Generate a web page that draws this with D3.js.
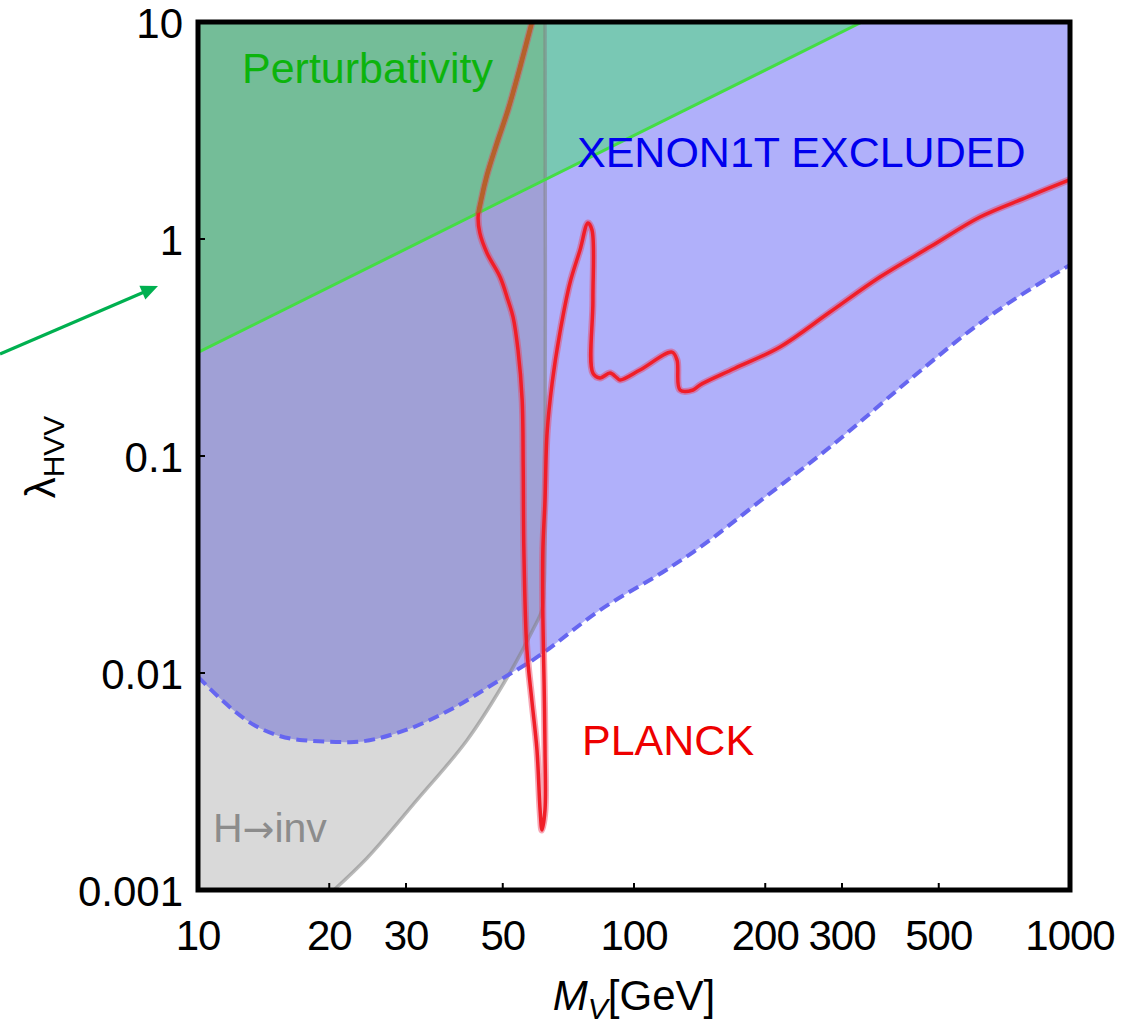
<!DOCTYPE html>
<html><head><meta charset="utf-8">
<script src="https://cdn.jsdelivr.net/npm/d3@7"></script>
<style>
body{margin:0;background:#fff}
text{font-family:"Liberation Sans",Arial,Helvetica,sans-serif}
</style>
</head><body>
<svg id="chart" width="1136" height="1025"></svg>
<script>
// ---- data ----
const xTicks = [10, 20, 30, 50, 100, 200, 300, 500, 1000];
const xTickLabels = ["10", "20", "30", "50", "100", "200", "300", "500", "1000"];
const yTicks = [0.001, 0.01, 0.1, 1, 10];
const yTickLabels = ["0.001", "0.01", "0.1", "1", "10"];

// XENON1T exclusion boundary (dashed)
const xenonM = [10, 13.7, 17.4, 22.3, 29.1, 37.8, 49.3, 58.7, 83.6, 119, 136.5, 200, 281.6, 436, 622, 1000];
const xenonL = [0.0096, 0.00564, 0.0049, 0.0048, 0.00535, 0.00675, 0.0093, 0.0115, 0.0195, 0.030, 0.036, 0.0647, 0.110, 0.231, 0.41, 0.76];

// H -> inv boundary (curve, then vertical at M = mH/2)
const hinvM = [20.5, 24.4, 31.8, 41.4, 51.9, 58.6, 61.5, 62.2, 62.5, 62.5];
const hinvL = [0.001, 0.0014, 0.0026, 0.0049, 0.0100, 0.0158, 0.0195, 0.025, 0.04, 10];

// Perturbativity line
const pertM = [10, 333.3];
const pertL = [0.3, 10];

// PLANCK relic density contour
const planckM = [58.5, 54.8, 51.4, 48.5, 46.0, 44.6, 43.9, 44.3, 46.0, 49.3, 51.4, 52.8, 54.2, 55.4, 55.7, 55.9, 56.8, 58.3, 59.9, 60.9, 61.5,
  62.5, 62.5, 62.2, 61.8, 61.8, 62.5, 63.2, 64.9, 67.6, 71.3, 75.2, 78.4, 80.1, 80.5, 80.5, 83.6, 88.1, 91.4, 92.9, 103.2,
  122.2, 125.5, 127.5, 136.6, 141.7, 170, 216.2, 280, 366.5, 480, 621.8, 800, 1000];
const planckL = [10.2, 6.2, 3.93, 2.77, 1.97, 1.51, 1.26, 1.066, 0.862, 0.668, 0.523, 0.437, 0.308, 0.181, 0.089, 0.0369, 0.0128, 0.0075, 0.00442, 0.00234, 0.00189,
  0.00234, 0.00442, 0.0090, 0.0181, 0.0369, 0.0627, 0.128, 0.217, 0.369, 0.627, 0.89, 1.185, 1.10, 0.523, 0.241, 0.229, 0.241, 0.229, 0.224, 0.249,
  0.301, 0.277, 0.2015, 0.2015, 0.2125, 0.253, 0.318, 0.457, 0.668, 0.925, 1.263, 1.563, 1.88];

// ---- scales ----
const x = d3.scaleLog().domain([10, 1000]).range([198, 1070]);
const y = d3.scaleLog().domain([0.001, 10]).range([890, 22]);
const svg = d3.select("#chart");
const defs = svg.append("defs");
const pts = (M, L) => M.map((m, i) => [m, L[i]]);
const smooth = d3.line().x(d => x(d[0])).y(d => y(d[1])).curve(d3.curveCatmullRom.alpha(0.5));
const mono = d3.line().x(d => x(d[0])).y(d => y(d[1])).curve(d3.curveMonotoneX);
const straight = d3.line().x(d => x(d[0])).y(d => y(d[1]));
const corners = c => c.map(p => "L" + x(p[0]) + "," + y(p[1])).join("") + "Z";

const xenonD = mono(pts(xenonM, xenonL));
const hinvD = smooth(pts(hinvM, hinvL));
const pertD = straight(pts(pertM, pertL));
const xenonPoly = xenonD + corners([[1000, 10], [10, 10]]);
const hinvPoly = hinvD + corners([[10, 10], [10, 0.001]]);
const pertPoly = pertD + corners([[10, 10]]);

defs.append("clipPath").attr("id", "plotClip").append("rect")
  .attr("x", x(10)).attr("y", y(10)).attr("width", x(1000) - x(10)).attr("height", y(0.001) - y(10));
defs.append("clipPath").attr("id", "grayClip").append("path").attr("d", hinvPoly);
defs.append("clipPath").attr("id", "greenClip").append("path").attr("d", pertPoly);

const plot = svg.append("g").attr("clip-path", "url(#plotClip)");
// regions
plot.append("path").attr("d", hinvPoly).attr("fill", "#d9d9d9");
plot.append("path").attr("d", xenonPoly).attr("fill", "#b0b0fa");
plot.append("g").attr("clip-path", "url(#grayClip)")
  .append("path").attr("d", xenonPoly).attr("fill", "#a0a0d6");
plot.append("path").attr("d", pertPoly).attr("fill", "#79c8b4");
plot.append("g").attr("clip-path", "url(#grayClip)")
  .append("path").attr("d", pertPoly).attr("fill", "#74bd98");

// boundaries
plot.append("path").attr("d", hinvD).attr("fill", "none")
  .attr("stroke", "rgba(130,130,130,0.55)").attr("stroke-width", 3.5);
plot.append("path").attr("d", xenonD).attr("fill", "none")
  .attr("stroke", "#6666f0").attr("stroke-width", 4).attr("stroke-dasharray", "11,6");
plot.append("path").attr("d", pertD).attr("fill", "none")
  .attr("stroke", "#44dd44").attr("stroke-width", 3);

// PLANCK curve
const planckD = smooth(pts(planckM, planckL));
plot.append("path").attr("d", planckD).attr("fill", "none")
  .attr("stroke", "rgba(235,60,90,0.45)").attr("stroke-width", 7).attr("stroke-linejoin", "round");
plot.append("path").attr("d", planckD).attr("fill", "none")
  .attr("stroke", "#f01e28").attr("stroke-width", 3.5).attr("stroke-linejoin", "round");
plot.append("g").attr("clip-path", "url(#greenClip)")
  .append("path").attr("d", planckD).attr("fill", "none")
  .attr("stroke", "#b5612a").attr("stroke-width", 4.5).attr("stroke-linejoin", "round");

// region labels
svg.append("text").attr("x", 242).attr("y", 83).attr("font-size", 43).attr("fill", "#0cb40c").text("Perturbativity");
svg.append("text").attr("x", 577).attr("y", 167).attr("font-size", 43).attr("fill", "#0000ee").text("XENON1T EXCLUDED");
svg.append("text").attr("x", 582).attr("y", 755).attr("font-size", 43).attr("fill", "#ee0000").text("PLANCK");
const hl2 = svg.append("text").attr("x", 213).attr("y", 842).attr("font-size", 41).attr("fill", "#8c8c8c");
hl2.append("tspan").text("H");
hl2.append("tspan").attr("font-family", "DejaVu Sans").attr("font-size", 38).text("\u2192");
hl2.append("tspan").text("inv");

// frame
svg.append("rect").attr("x", x(10)).attr("y", y(10)).attr("width", x(1000) - x(10)).attr("height", y(0.001) - y(10))
  .attr("fill", "none").attr("stroke", "#000").attr("stroke-width", 5);

// ticks
xTicks.forEach((t, i) => {
  svg.append("line").attr("x1", x(t)).attr("x2", x(t)).attr("y1", y(0.001)).attr("y2", y(0.001) - 7)
    .attr("stroke", "#000").attr("stroke-width", 2);
  svg.append("text").attr("x", x(t)).attr("y", 950).attr("text-anchor", "middle")
    .attr("font-size", 42).attr("letter-spacing", -1).attr("fill", "#000").text(xTickLabels[i]);
});
yTicks.forEach((t, i) => {
  svg.append("line").attr("x1", x(10)).attr("x2", x(10) + 7).attr("y1", y(t)).attr("y2", y(t))
    .attr("stroke", "#000").attr("stroke-width", 2);
  svg.append("text").attr("x", 183).attr("y", y(t) + 16).attr("text-anchor", "end")
    .attr("font-size", 42).attr("fill", "#000").text(yTickLabels[i]);
});

// axis titles
const xt = svg.append("text").attr("x", 634).attr("y", 1010).attr("text-anchor", "middle").attr("font-size", 42).attr("fill", "#000");
xt.append("tspan").attr("font-style", "italic").text("M");
xt.append("tspan").attr("font-style", "italic").attr("font-size", 30).attr("dy", 9).text("V");
xt.append("tspan").attr("dy", -9).text("[GeV]");

const yt = svg.append("text").attr("transform", "translate(55,457) rotate(-90)").attr("text-anchor", "middle")
  .attr("font-size", 42).attr("fill", "#000");
yt.append("tspan").text("\u03bb");
yt.append("tspan").attr("font-size", 30).attr("dy", 9).text("HVV");

// annotation arrow
const ax0 = 0, ay0 = 354, ax1 = 158, ay1 = 286;
const len = Math.hypot(ax1 - ax0, ay1 - ay0), ux = (ax1 - ax0) / len, uy = (ay1 - ay0) / len;
const hl = 17, hw = 7.5;
const bx = ax1 - ux * hl, by = ay1 - uy * hl;
svg.append("line").attr("x1", ax0).attr("y1", ay0).attr("x2", bx + ux * 2).attr("y2", by + uy * 2)
  .attr("stroke", "#00b050").attr("stroke-width", 3.2);
svg.append("polygon").attr("points", [[ax1, ay1], [bx - uy * hw, by + ux * hw], [bx + uy * hw, by - ux * hw]].map(p => p.join(",")).join(" "))
  .attr("fill", "#00b050");
</script>
</body></html>
